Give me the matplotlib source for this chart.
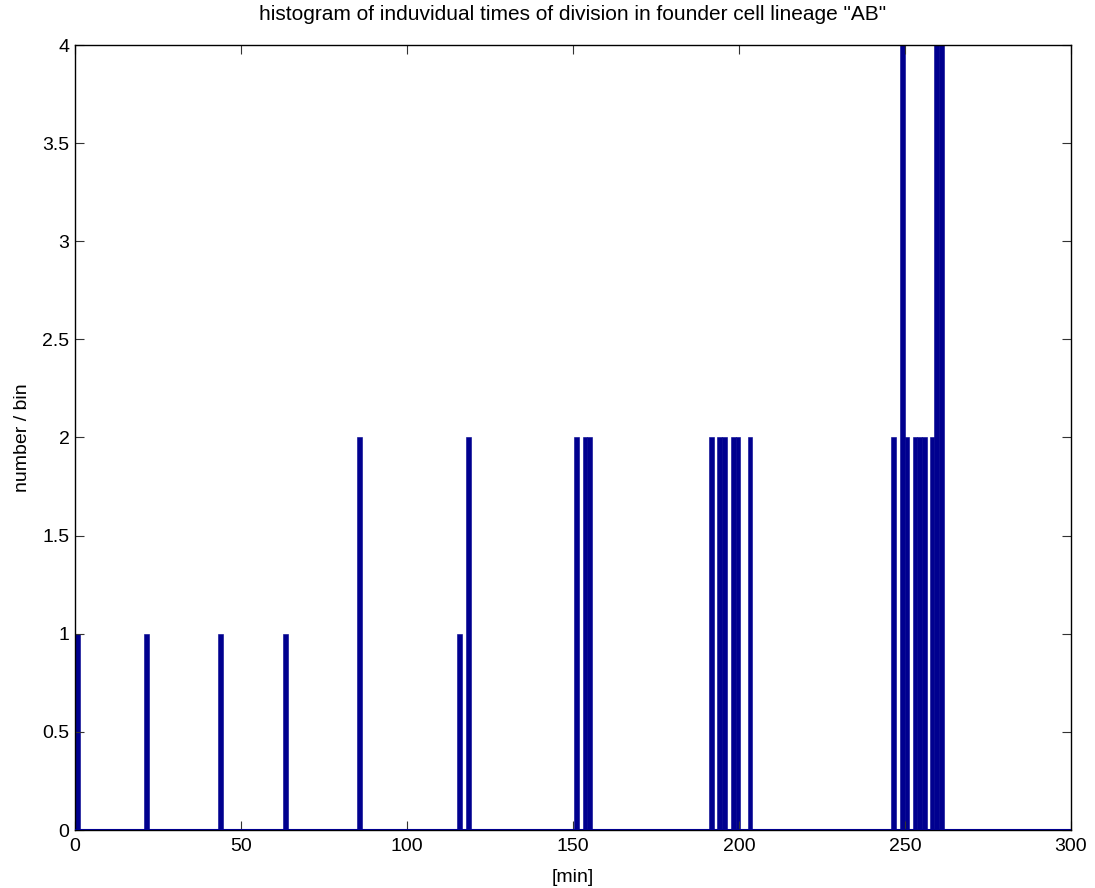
import matplotlib
matplotlib.use('Agg')
import matplotlib.pyplot as plt

# histogram bins: left edge [min] and count per bin
bin_left = [0.0, 20.9, 43.2, 62.8, 84.9, 115.1, 117.8, 150.4,
            152.9, 154.35, 191.0, 193.5, 195.0, 197.5, 199.0, 202.6,
            245.8, 248.4, 249.85, 252.3, 253.7, 255.1, 257.4, 258.85, 260.3]
bin_count = [1, 1, 1, 1, 2, 1, 2, 2,
             2, 2, 2, 2, 2, 2, 2, 2,
             2, 4, 2, 2, 2, 2, 2, 4, 4]
bin_width = 1.45

xticks = [0, 50, 100, 150, 200, 250, 300]
yticks = [0, 0.5, 1, 1.5, 2, 2.5, 3, 3.5, 4]
yticklabels = ['0', '0.5', '1', '1.5', '2', '2.5', '3', '3.5', '4']

plt.rcParams['font.family'] = ['Liberation Sans', 'DejaVu Sans']

fig = plt.figure(figsize=(10.95, 8.88), dpi=100)
ax = fig.add_axes([75/1095., 58/888., 996/1095., 785/888.])

bar_color = '#00008f'
ax.bar(bin_left, bin_count, width=bin_width, align='edge',
       color=bar_color, edgecolor=bar_color, linewidth=0.4)
ax.axhline(0, color=bar_color, lw=1.5, zorder=3)

ax.set_xlim(0, 300)
ax.set_ylim(0, 4)
ax.set_xticks(xticks)
ax.set_yticks(yticks)
ax.set_yticklabels(yticklabels)
ax.tick_params(direction='in', length=6.5, width=0.8, color='#333333',
               top=True, right=True, labelsize=14, pad=4)
ax.tick_params(axis='x', pad=6)
for s in ax.spines.values():
    s.set_linewidth(1.0)
    s.set_color('black')

ax.set_title('histogram of induvidual times of division in founder cell lineage "AB"',
             fontsize=15, pad=18)
ax.set_xlabel('[min]', fontsize=14, labelpad=10)
ax.set_ylabel('number / bin', fontsize=14, labelpad=8)

fig.savefig('out.png', dpi=100)
